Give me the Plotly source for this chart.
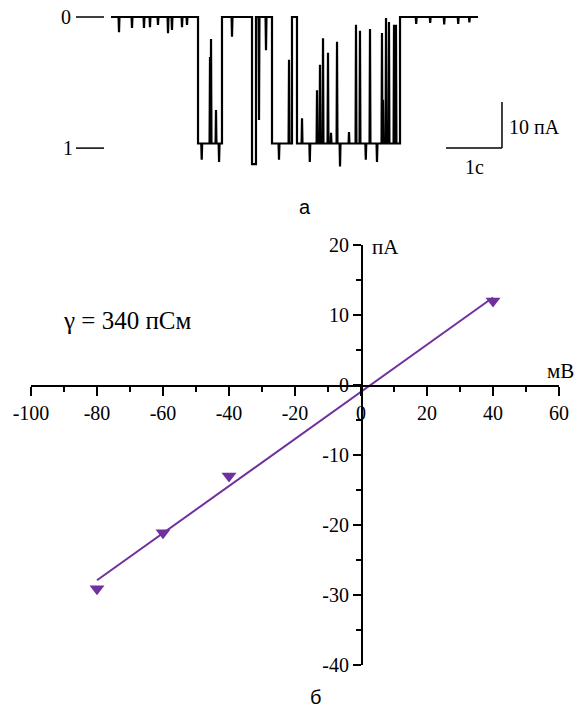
import plotly.graph_objects as go

W, H = 582, 709

# ---------------- data: single-channel recording (panel a) ----------------
# state segments: start time (s) and current level (pA); last entry is the end time
seg_start = [0.0, 1.554, 1.982, 2.518, 2.589, 2.875, 3.232, 3.321, 5.161]
seg_level = [0.0, -27.5, 0.0, -32.0, 0.0, -27.5, 0.0, -27.5, 0.0]
trace_end = 6.554

# brief events (flickers / noise spikes): time (s) and peak current (pA)
spike_t = [0.143, 0.375, 0.589, 0.696, 0.839, 1.018, 1.089, 1.268, 1.357,
           1.62, 1.768, 1.786, 1.875, 1.93,
           2.161, 2.643, 2.768,
           3.00, 3.179,
           3.411, 3.55, 3.679, 3.732, 3.786, 3.875, 3.929, 4.036, 4.09, 4.25,
           4.375, 4.446, 4.55, 4.625, 4.75, 4.839, 4.857, 4.911, 4.964, 5.054, 5.089,
           5.45, 5.7, 5.95, 6.2, 6.4]
spike_I = [-3.3, -2.4, -2.4, -2.2, -1.7, -3.5, -2.8, -2.2, -1.7,
           -31.0, -8.7, -4.8, -20.2, -31.5,
           -4.3, -22.4, -7.2,
           -31.0, -9.3,
           -22.0, -31.5, -15.9, -10.4, -4.6, -7.8, -25.2, -5.4, -32.5, -25.0,
           -1.7, -3.0, -31.0, -2.6, -31.5, -3.5, -18.0, -0.2, -1.1, -1.7, -1.7,
           -1.5, -1.3, -1.6, -1.5, -1.2]

level_marks = [0.0, -28.5]
level_names = ["0", "1"]
scale_time_s = 1.0
scale_current_pA = 10.0

# ---------------- data: current-voltage relation (panel b) ----------------
V_mV = [-80, -60, -40, 40]
I_pA = [-29.1, -21.1, -13.0, 12.0]
fit_V = [-80, 40]
fit_I = [-27.9, 12.5]
xticks_mV = [-100, -80, -60, -40, -20, 0, 20, 40, 60]
yticks_pA = [-40, -30, -20, -10, 0, 10, 20]

PURPLE = "#7030A0"
SERIF = "Liberation Serif"
SANS = "Liberation Sans"


def px(x):
    return x / W


def py(y):
    return 1 - y / H


def lab(v):
    return str(v).replace("\u2212", "-")


# build the step trace
bounds = seg_start + [trace_end]
tx, ty = [], []
eps = 0.008
for i, lev in enumerate(seg_level):
    t0, t1 = bounds[i], bounds[i + 1]
    tx.append(t0)
    ty.append(lev)
    for st, si in zip(spike_t, spike_I):
        if t0 < st < t1:
            tx += [st - eps, st, st + eps]
            ty += [lev, si, lev]
    tx.append(t1)
    ty.append(lev)

fig = go.Figure()
fig.add_trace(go.Scatter(x=tx, y=ty, mode="lines", xaxis="x2", yaxis="y2",
                         line=dict(color="black", width=2.2), hoverinfo="skip"))

fig.add_trace(go.Scatter(x=fit_V, y=fit_I, mode="lines",
                         line=dict(color=PURPLE, width=2), hoverinfo="skip"))
fig.add_trace(go.Scatter(x=V_mV, y=I_pA, mode="markers",
                         marker=dict(symbol="triangle-down", size=13, color=PURPLE),
                         hoverinfo="skip"))

# top axes: pixel 111 -> t=0, 56 px per second; I=0 at py 17, 4.6 px per pA
t_lo, t_hi = (0 - 111) / 56, (W - 111) / 56
I_top, I_bot = 17 / 4.6, (17 - 200) / 4.6

shapes = []
for lv in level_marks:
    shapes.append(dict(type="line", xref="paper", yref="y2", x0=px(76), x1=px(104),
                       y0=lv, y1=lv, line=dict(color="black", width=1.5)))
sb_x1 = 6.982
sb_y0 = -28.48
shapes.append(dict(type="line", xref="x2", yref="y2", x0=sb_x1 - scale_time_s, x1=sb_x1,
                   y0=sb_y0, y1=sb_y0, line=dict(color="black", width=1.5)))
shapes.append(dict(type="line", xref="x2", yref="y2", x0=sb_x1, x1=sb_x1,
                   y0=sb_y0, y1=sb_y0 + scale_current_pA, line=dict(color="black", width=1.5)))

annotations = []
for lv, name, xx in zip(level_marks, level_names, [66, 68]):
    annotations.append(dict(xref="paper", yref="y2", x=px(xx), y=lv, text=name,
                            showarrow=False, font=dict(family=SERIF, size=20, color="black"),
                            xanchor="center", yanchor="middle"))


def ann(x, y, text, size, family=SERIF, xanchor="center"):
    annotations.append(dict(xref="paper", yref="paper", x=px(x), y=py(y), text=text,
                            showarrow=False, font=dict(family=family, size=size, color="black"),
                            xanchor=xanchor, yanchor="middle"))


ann(507, 127, "10 пА", 20, xanchor="left")
ann(474, 167, "1с", 20)
ann(305, 207, "а", 20, family=SANS)
ann(127, 320, "γ = 340 пСм", 25)
ann(370, 247, "пА", 21, xanchor="left")
ann(560, 371, "мВ", 21)
ann(315, 697, "б", 20, family=SANS)

fig.update_layout(
    width=W, height=H, margin=dict(l=0, r=0, t=0, b=0, autoexpand=False),
    paper_bgcolor="white", plot_bgcolor="white", showlegend=False,
    xaxis2=dict(domain=[0, 1], range=[t_lo, t_hi], visible=False, anchor="y2", automargin=False),
    yaxis2=dict(domain=[py(200), 1], range=[I_bot, I_top], visible=False, anchor="x2", automargin=False),
    xaxis=dict(domain=[px(31), px(559)], range=[-100, 60], anchor="free", position=py(385),
               tickvals=xticks_mV, ticktext=[lab(v) for v in xticks_mV],
               ticks="outside", ticklen=9, tickwidth=1.5, tickcolor="black",
               minor=dict(ticks="outside", dtick=10, ticklen=5, tickwidth=1.5, tickcolor="black"),
               showline=True, linecolor="black", linewidth=1.5, showgrid=False, zeroline=False,
               automargin=False,
               tickfont=dict(family=SERIF, size=20, color="black")),
    yaxis=dict(domain=[py(665), py(245)], range=[-40, 20], anchor="free", position=px(361),
               tickvals=yticks_pA, ticktext=[lab(v) for v in yticks_pA],
               ticks="outside", ticklen=8, tickwidth=1.5, tickcolor="black",
               minor=dict(ticks="outside", dtick=5, ticklen=5, tickwidth=1.5, tickcolor="black"),
               showline=True, linecolor="black", linewidth=1.5, showgrid=False, zeroline=False,
               automargin=False,
               tickfont=dict(family=SERIF, size=20, color="black")),
    shapes=shapes, annotations=annotations,
)

fig.write_html("out.html", config={"displayModeBar": False, "staticPlot": True},
               post_script="document.body.style.margin='0';document.body.style.overflow='hidden';")
